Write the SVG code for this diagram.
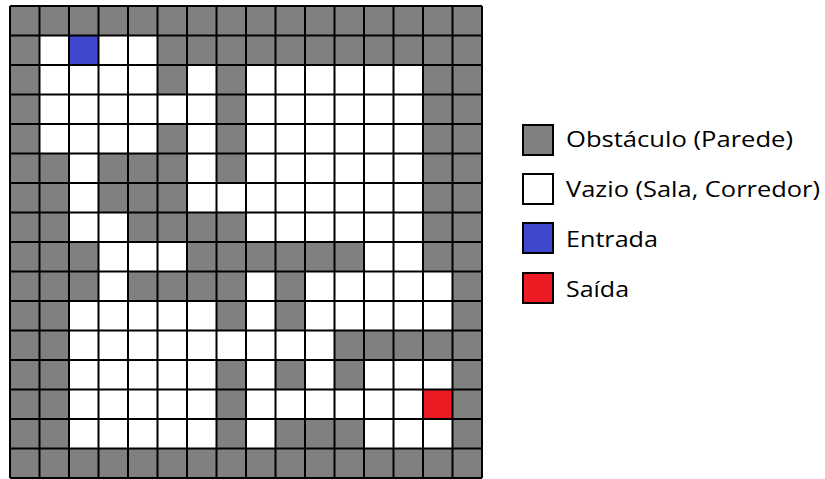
<svg xmlns="http://www.w3.org/2000/svg" width="825" height="479" viewBox="0 0 825 479">
<style>
.w{fill:#ffffff}
.b{fill:#3f48cc}
.r{fill:#ed1c24}
.grid{fill:none;stroke:#000;stroke-width:2}
.sw{stroke:#000;stroke-width:2}
.lbl{font-family:"Open Sans","Noto Sans","Liberation Sans",sans-serif;font-size:22px;fill:#000}
</style>
<rect width="825" height="479" fill="#ffffff"/>
<g id="maze">
<rect x="10" y="6" width="472" height="472" fill="#808080"/>
<rect class="w" x="39.5" y="35.5" width="118" height="29.5"/>
<rect class="b" x="69" y="35.5" width="29.5" height="29.5"/>
<rect class="w" x="39.5" y="65" width="118" height="29.5"/>
<rect class="w" x="187" y="65" width="29.5" height="29.5"/>
<rect class="w" x="246" y="65" width="177" height="29.5"/>
<rect class="w" x="39.5" y="94.5" width="177" height="29.5"/>
<rect class="w" x="246" y="94.5" width="177" height="29.5"/>
<rect class="w" x="39.5" y="124" width="118" height="29.5"/>
<rect class="w" x="187" y="124" width="29.5" height="29.5"/>
<rect class="w" x="246" y="124" width="177" height="29.5"/>
<rect class="w" x="69" y="153.5" width="29.5" height="29.5"/>
<rect class="w" x="187" y="153.5" width="29.5" height="29.5"/>
<rect class="w" x="246" y="153.5" width="177" height="29.5"/>
<rect class="w" x="69" y="183" width="29.5" height="29.5"/>
<rect class="w" x="187" y="183" width="236" height="29.5"/>
<rect class="w" x="69" y="212.5" width="59" height="29.5"/>
<rect class="w" x="246" y="212.5" width="177" height="29.5"/>
<rect class="w" x="98.5" y="242" width="88.5" height="29.5"/>
<rect class="w" x="364" y="242" width="59" height="29.5"/>
<rect class="w" x="98.5" y="271.5" width="29.5" height="29.5"/>
<rect class="w" x="246" y="271.5" width="29.5" height="29.5"/>
<rect class="w" x="305" y="271.5" width="147.5" height="29.5"/>
<rect class="w" x="69" y="301" width="147.5" height="29.5"/>
<rect class="w" x="246" y="301" width="29.5" height="29.5"/>
<rect class="w" x="305" y="301" width="147.5" height="29.5"/>
<rect class="w" x="69" y="330.5" width="265.5" height="29.5"/>
<rect class="w" x="69" y="360" width="147.5" height="29.5"/>
<rect class="w" x="246" y="360" width="29.5" height="29.5"/>
<rect class="w" x="305" y="360" width="29.5" height="29.5"/>
<rect class="w" x="364" y="360" width="88.5" height="29.5"/>
<rect class="w" x="69" y="389.5" width="147.5" height="29.5"/>
<rect class="w" x="246" y="389.5" width="177" height="29.5"/>
<rect class="r" x="423" y="389.5" width="29.5" height="29.5"/>
<rect class="w" x="69" y="419" width="147.5" height="29.5"/>
<rect class="w" x="246" y="419" width="29.5" height="29.5"/>
<rect class="w" x="364" y="419" width="88.5" height="29.5"/>
<path class="grid" d="M10 6V478M39.5 6V478M69 6V478M98.5 6V478M128 6V478M157.5 6V478M187 6V478M216.5 6V478M246 6V478M275.5 6V478M305 6V478M334.5 6V478M364 6V478M393.5 6V478M423 6V478M452.5 6V478M482 6V478M10 6H482M10 35.5H482M10 65H482M10 94.5H482M10 124H482M10 153.5H482M10 183H482M10 212.5H482M10 242H482M10 271.5H482M10 301H482M10 330.5H482M10 360H482M10 389.5H482M10 419H482M10 448.5H482M10 478H482"/>
</g>
<g id="legend-obstaculo">
<rect class="sw" x="523" y="125" width="30" height="30" fill="#808080"/>
<text class="lbl" x="566" y="147" textLength="227" lengthAdjust="spacingAndGlyphs">Obstáculo (Parede)</text>
</g>
<g id="legend-vazio">
<rect class="sw" x="523" y="174" width="30" height="30" fill="#ffffff"/>
<text class="lbl" x="566" y="197" textLength="254" lengthAdjust="spacingAndGlyphs">Vazio (Sala, Corredor)</text>
</g>
<g id="legend-entrada">
<rect class="sw" x="523" y="223" width="30" height="30" fill="#3f48cc"/>
<text class="lbl" x="566" y="247" textLength="92" lengthAdjust="spacingAndGlyphs">Entrada</text>
</g>
<g id="legend-saida">
<rect class="sw" x="523" y="273" width="30" height="30" fill="#ed1c24"/>
<text class="lbl" x="566" y="297" textLength="63" lengthAdjust="spacingAndGlyphs">Saída</text>
</g>
</svg>
